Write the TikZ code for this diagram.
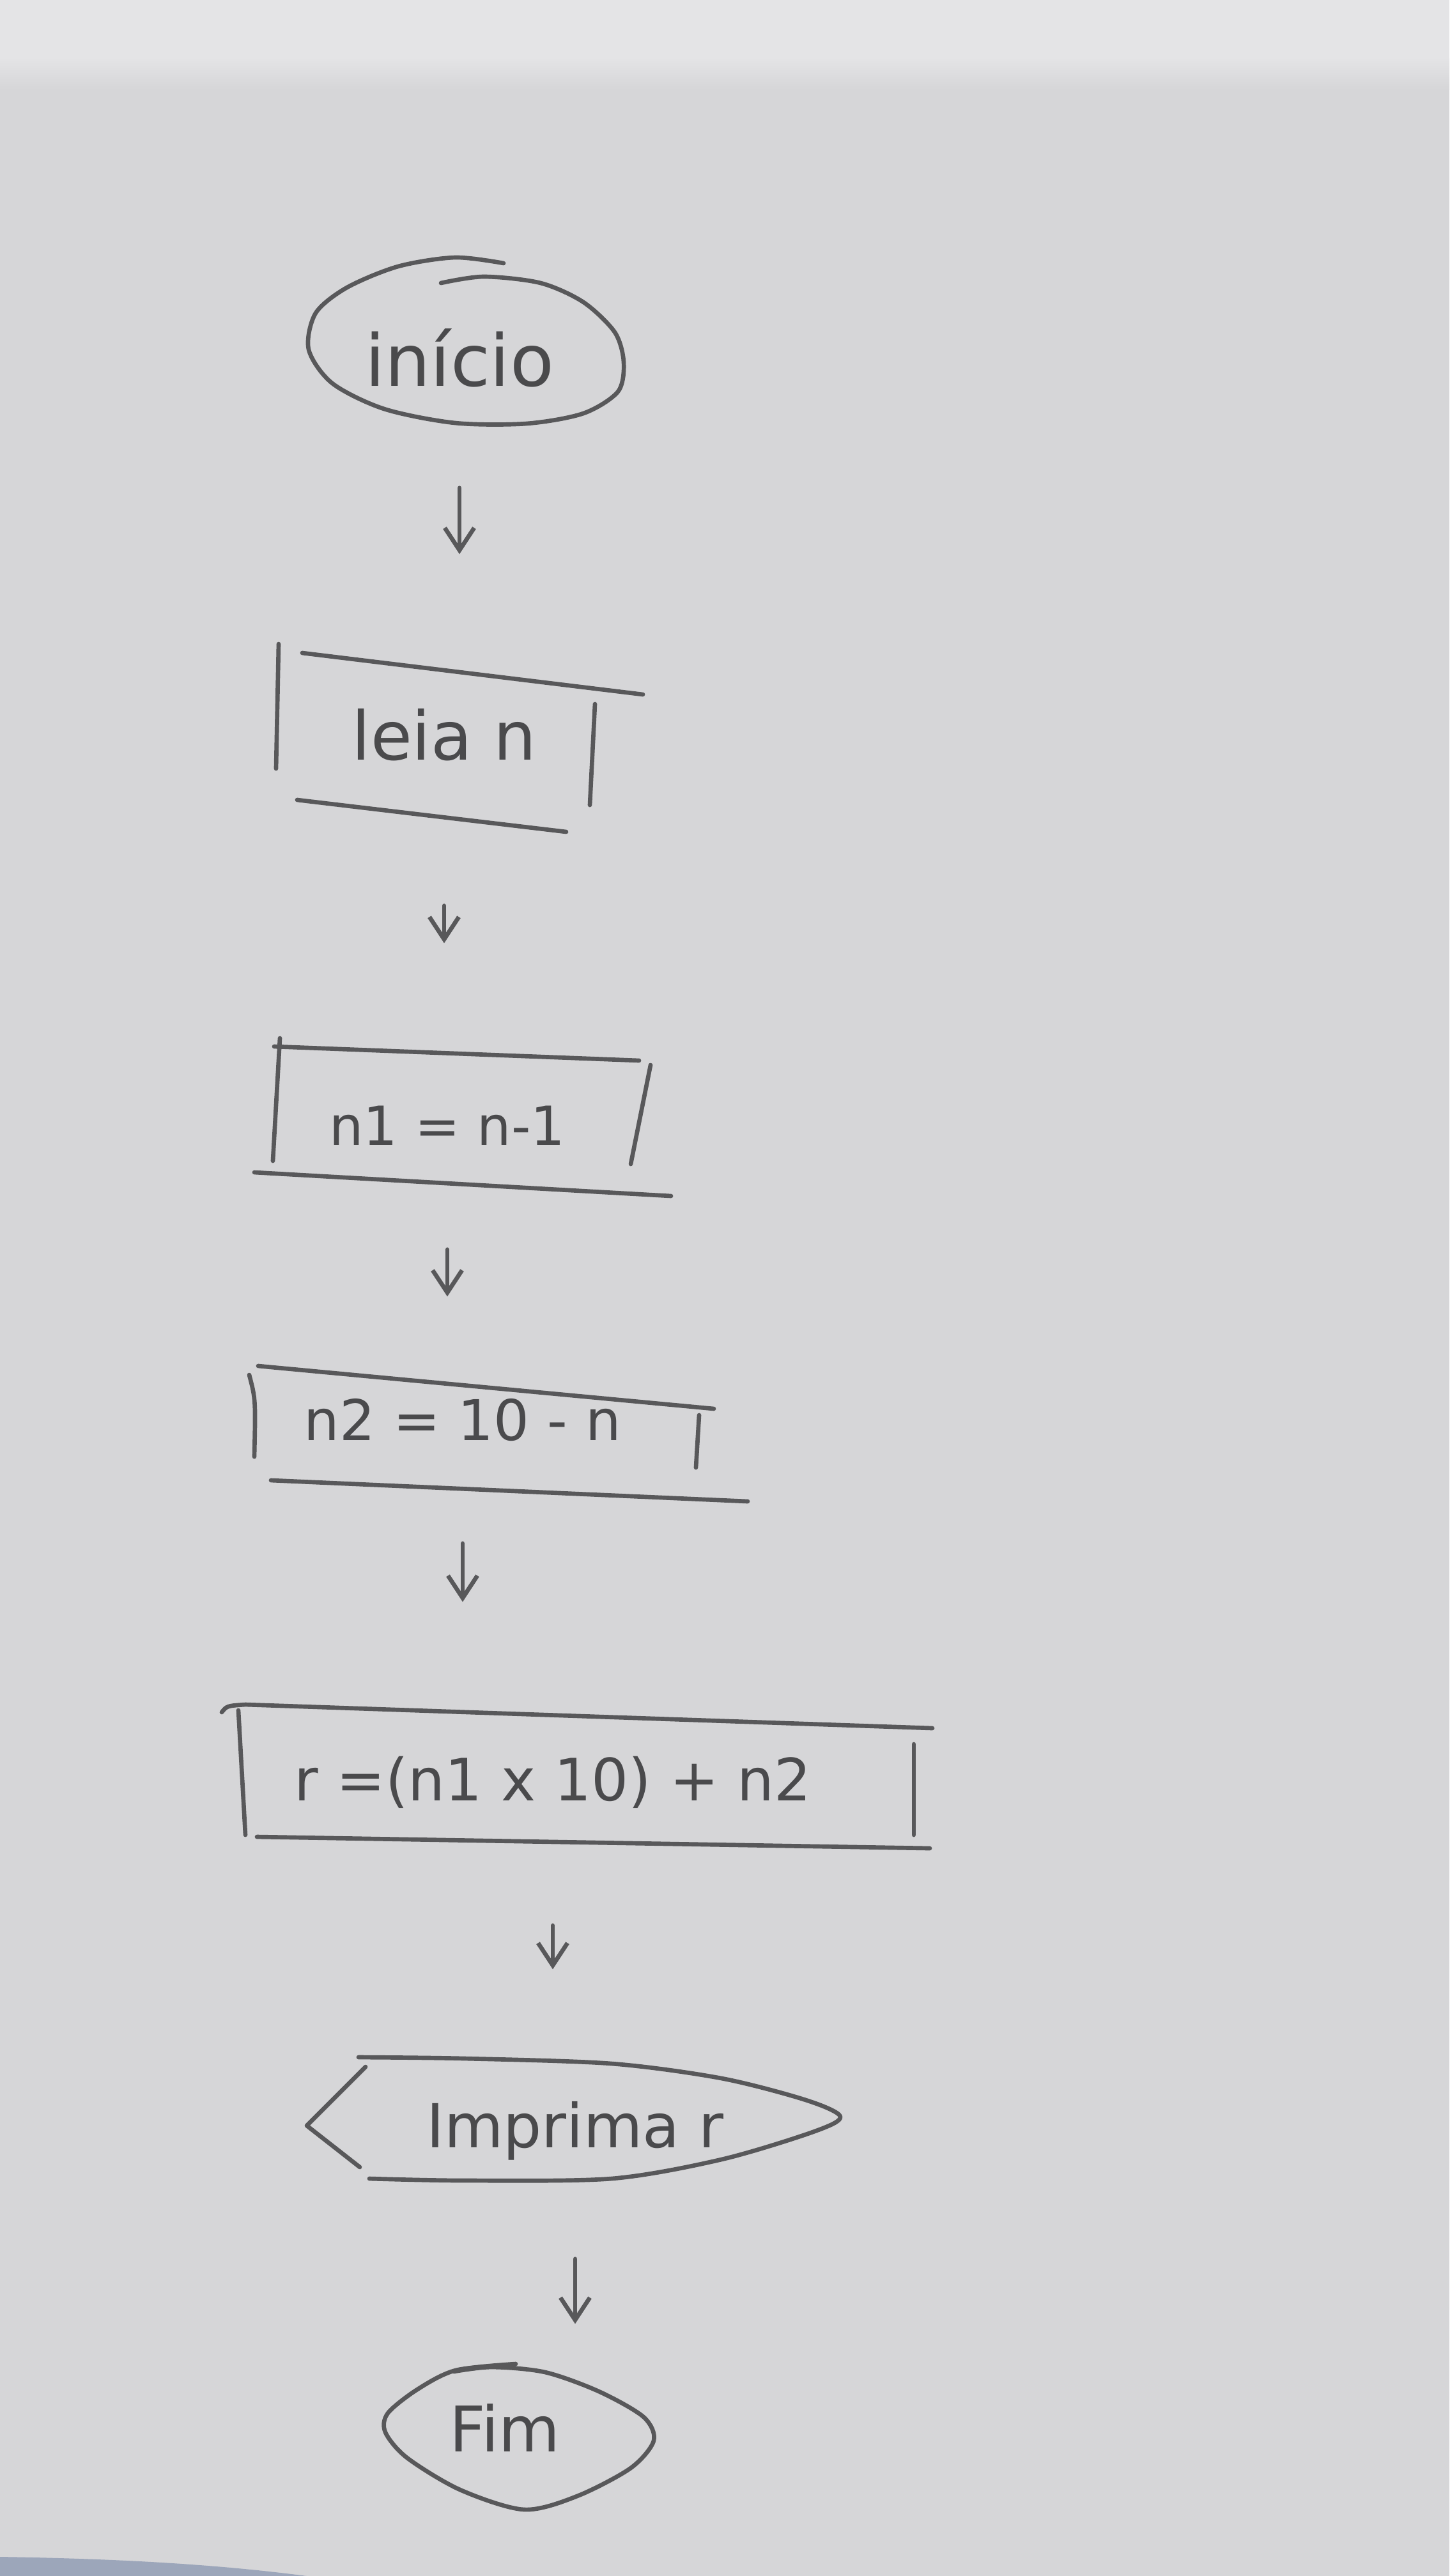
\documentclass[tikz,border=0pt]{standalone}
\usepackage{fontspec}
\setmainfont{DejaVu Sans}
\usetikzlibrary{arrows.meta}

\definecolor{papel}{RGB}{214,214,216}
\definecolor{papelclaro}{RGB}{228,228,230}
\definecolor{azulado}{RGB}{156,166,186}
\definecolor{lapis}{RGB}{88,88,90}
\definecolor{grafite}{RGB}{74,74,76}

\tikzset{
  traco/.style={draw=lapis, line width=1.9pt, line cap=round, line join=round},
  rotulo/.style={text=grafite, minimum height=2cm, font=\fontsize{27}{30}\selectfont},
  seta/.style={traco, -{Straight Barb[length=3.5mm, width=4.6mm]}},
}

\begin{document}
\begin{tikzpicture}
\useasboundingbox (0,0) rectangle (22.68,-40.32);
% folha
\fill[papel] (0,0) rectangle (22.68,-40.32);
\fill[papelclaro] (0,0) rectangle (22.68,-0.9);
\shade[top color=papelclaro, bottom color=papel] (0,-0.9) rectangle (22.68,-1.4);
\fill[azulado] (0,-40.32) -- (0,-40.02) .. controls (2,-40.05) and (3.5,-40.15) .. (4.8,-40.32) -- cycle;

% textos
\node[rotulo, font=\fontsize{32}{34}\selectfont] (inicio) at (7.19,-5.60) {início};
\node[rotulo, font=\fontsize{30}{32}\selectfont] (leia) at (6.95,-11.50) {leia n};
\node[rotulo, font=\fontsize{24}{26}\selectfont] (n1) at (7.00,-17.62) {n1 = n-1};
\node[rotulo, font=\fontsize{25}{27}\selectfont] (n2) at (7.24,-22.22) {n2 = 10 - n};
\node[rotulo, font=\fontsize{26}{28}\selectfont] (r) at (8.65,-27.90) {r =(n1 x 10) + n2};
\node[rotulo] (imprima) at (9.00,-33.35) {Imprima r};
\node[rotulo, font=\fontsize{28}{30}\selectfont] (fim) at (7.90,-38.00) {Fim};

% inicio
\draw[traco] plot[smooth] coordinates {(6.90,-4.43) (7.57,-4.33) (8.46,-4.43) (9.13,-4.73) (9.62,-5.20) (9.76,-5.67) (9.67,-6.13) (9.13,-6.47) (8.24,-6.63) (7.12,-6.62) (6.01,-6.40) (5.20,-6.00) (4.83,-5.47) (4.94,-4.90) (5.43,-4.50) (6.23,-4.17) (7.12,-4.03) (7.88,-4.12)};

% leia n
\draw[traco] (4.36,-10.08) -- (4.32,-12.03);
\draw[traco] (4.73,-10.22) -- (10.06,-10.87);
\draw[traco] (9.31,-11.02) -- (9.23,-12.60);
\draw[traco] (4.65,-12.52) -- (8.86,-13.02);

% n1
\draw[traco] (4.29,-16.38) -- (10.00,-16.60);
\draw[traco] (4.38,-16.25) -- (4.27,-18.17);
\draw[traco] (10.18,-16.67) -- (9.87,-18.22);
\draw[traco] (3.98,-18.35) -- (10.50,-18.72);

% n2
\draw[traco] (4.04,-21.38) -- (11.17,-22.05);
\draw[traco] (3.90,-21.52) .. controls (4.00,-21.90) .. (3.98,-22.80);
\draw[traco] (10.94,-22.15) -- (10.89,-22.97);
\draw[traco] (4.24,-23.17) -- (11.70,-23.50);

% r
\draw[traco] (3.47,-26.80) .. controls (3.55,-26.70) .. (3.84,-26.68) -- (14.59,-27.05);
\draw[traco] (3.73,-26.77) -- (3.84,-28.72);
\draw[traco] (14.30,-27.30) -- (14.30,-28.72);
\draw[traco] (4.02,-28.75) -- (14.55,-28.93);

% imprima
\draw[traco] plot[smooth] coordinates {(5.61,-32.20) (7.27,-32.22) (9.57,-32.30) (11.29,-32.53) (12.61,-32.87) (13.15,-33.13) (12.72,-33.37) (11.29,-33.80) (9.57,-34.10) (7.27,-34.13) (5.78,-34.10)};
\draw[traco] (5.72,-32.35) -- (4.80,-33.27) -- (5.63,-33.92);

% fim
\draw[traco] plot[smooth] coordinates {(8.07,-37.00) (7.13,-37.10) (6.53,-37.40) (6.07,-37.77) (6.03,-38.07) (6.37,-38.47) (7.20,-38.97) (8.20,-39.28) (9.03,-39.07) (9.87,-38.63) (10.23,-38.20) (10.07,-37.83) (9.37,-37.43) (8.53,-37.13) (7.70,-37.05) (7.10,-37.12)};

% setas
\foreach \de/\para/\cimo/\baixo in {inicio/leia/1.03/1.82, leia/n1/1.67/1.85, n1/n2/0.93/0.92, n2/r/0.93/1.82, r/imprima/1.23/1.52, imprima/fim/1.00/0.62}
  \draw[seta, shorten <=\cimo cm, shorten >=\baixo cm] (\de.south) -- (\de.south |- \para.north);
\end{tikzpicture}
\end{document}
